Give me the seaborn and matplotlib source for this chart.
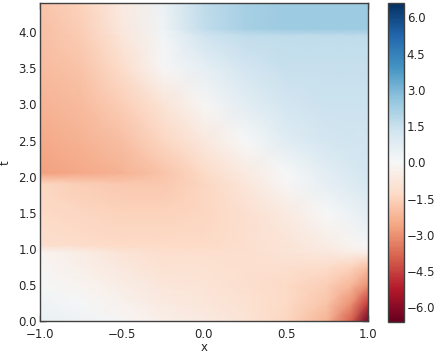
import numpy as np
import matplotlib
matplotlib.use("Agg")
import matplotlib.pyplot as plt
import seaborn as sns

# grid positions (paired rows give the sharp steps)
x_vals = [-1.0, -0.75, -0.5, -0.25, 0.0, 0.25, 0.5, 0.75, 0.9, 1.0]
t_vals = [0.0, 0.25, 0.5, 0.75, 0.95, 1.05, 1.5, 1.9, 2.05, 2.5, 3.0, 3.5, 3.95, 4.05, 4.4]

# field values, one row per t (bottom to top), left to right in x
u_rows = [
    [0.5, 0.3, -0.1, -0.4, -0.6, -0.9, -1.4, -2.3, -4.0, -6.4],
    [0.3, 0.1, -0.3, -0.6, -0.8, -1.0, -1.3, -1.9, -3.0, -4.6],
    [0.1, -0.2, -0.5, -0.8, -0.9, -1.1, -1.3, -1.6, -2.2, -3.0],
    [-0.1, -0.4, -0.7, -1.0, -1.0, -1.1, -1.1, -1.2, -1.5, -2.0],
    [-0.2, -0.5, -0.9, -1.1, -1.1, -1.1, -0.9, -0.7, -0.5, -0.4],
    [-1.1, -1.2, -1.3, -1.3, -1.3, -1.1, -0.9, -0.5, -0.2, 0.1],
    [-1.3, -1.4, -1.5, -1.5, -1.4, -1.1, -0.6, 0.0, 0.4, 0.7],
    [-1.4, -1.6, -1.8, -1.8, -1.4, -0.8, -0.1, 0.6, 0.9, 1.1],
    [-2.7, -2.5, -2.3, -1.9, -1.3, -0.6, 0.0, 0.7, 1.0, 1.2],
    [-2.5, -2.3, -2.0, -1.4, -0.7, 0.0, 0.8, 1.2, 1.3, 1.3],
    [-2.3, -2.1, -1.6, -0.9, -0.1, 0.7, 1.2, 1.4, 1.4, 1.4],
    [-2.1, -1.9, -1.2, -0.1, 0.6, 1.2, 1.5, 1.5, 1.5, 1.5],
    [-2.0, -1.7, -0.8, 0.2, 1.3, 1.6, 1.7, 1.7, 1.7, 1.7],
    [-2.0, -1.6, -0.7, 0.3, 1.6, 2.2, 2.4, 2.4, 2.4, 2.4],
    [-1.9, -1.5, -0.6, 0.4, 1.7, 2.2, 2.4, 2.4, 2.4, 2.4],
]

cbar_ticks = [-6.0, -4.5, -3.0, -1.5, 0.0, 1.5, 3.0, 4.5, 6.0]

sns.set_style("white")
plt.rcParams.update({
    "font.family": ["DejaVu Sans"],
    "font.size": 8.5,
    "axes.unicode_minus": True,
    "axes.edgecolor": "0.25",
    "axes.linewidth": 1.0,
})

cmap = sns.color_palette("RdBu", as_cmap=True)

fig = plt.figure(figsize=(4.34, 3.6), dpi=100)
ax = fig.add_axes([0.092, 0.108, 0.756, 0.883])
cax = fig.add_axes([0.894, 0.106, 0.037, 0.886])

X, T = np.meshgrid(x_vals, t_vals)
U = np.array(u_rows)
mesh = ax.pcolormesh(X, T, U, cmap=cmap, vmin=-6.6, vmax=6.6,
                     shading="gouraud", rasterized=True)

ax.set_xlim(-1.0, 1.0)
ax.set_ylim(0.0, 4.4)
ax.set_xticks([-1.0, -0.5, 0.0, 0.5, 1.0])
ax.set_yticks(np.arange(0, 4.01, 0.5))
ax.tick_params(direction="in", length=4, width=1, color="0.25",
               labelcolor="0.15", top=True, right=True,
               bottom=True, left=True)
ax.tick_params(axis="x", pad=5)
ax.tick_params(axis="y", pad=2)
ax.set_xlabel("x", labelpad=0, color="0.15")
ax.set_ylabel("t", labelpad=5, color="0.15")

cb = fig.colorbar(mesh, cax=cax)
cb.set_ticks(cbar_ticks)
cb.ax.tick_params(direction="in", length=4, width=1, color="0.25",
                  labelcolor="0.15", left=False, right=True, pad=2)
cb.outline.set_edgecolor("0.25")

fig.savefig("out.png", dpi=100)
